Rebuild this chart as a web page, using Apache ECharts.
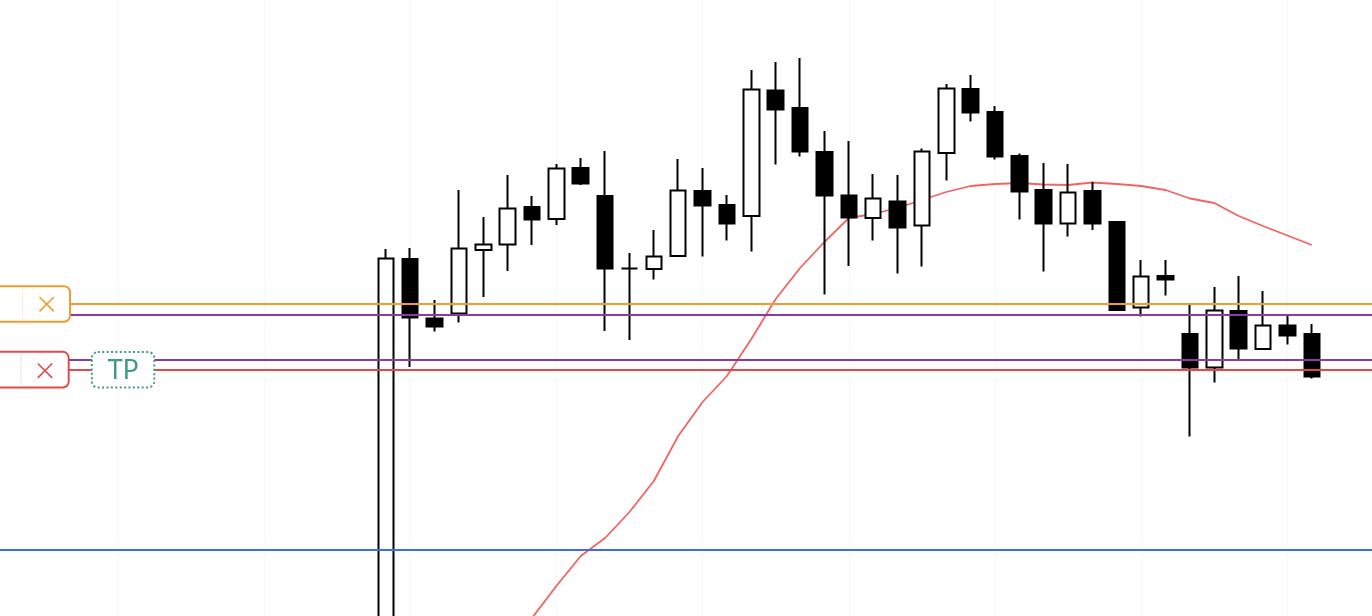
<!DOCTYPE html>
<html>
<head>
<meta charset="utf-8">
<script src="https://cdn.jsdelivr.net/npm/echarts@6/dist/echarts.min.js"></script>
<style>
html,body{margin:0;padding:0;background:#fff;}
#chart{width:1372px;height:616px;}
</style>
</head>
<body>
<div id="chart"></div>
<script>
// empty bars before / after the visible candles
const padBefore = 17;
const padAfter = 3;

// [open, close, low, high]
const candles = [
  [149.76, 153.575, 149.56, 153.67],
  [153.57, 152.985, 152.49, 153.68],
  [152.975, 152.895, 152.845, 153.16],
  [153.025, 153.675, 152.935, 154.26],
  [153.66, 153.715, 153.19, 153.99],
  [153.715, 154.075, 153.45, 154.41],
  [154.09, 153.965, 153.71, 154.20],
  [153.97, 154.475, 153.91, 154.52],
  [154.48, 154.325, 154.31, 154.58],
  [154.20, 153.475, 152.85, 154.65],
  [153.475, 153.475, 152.76, 153.63],
  [153.47, 153.595, 153.365, 153.86],
  [153.60, 154.255, 153.60, 154.57],
  [154.25, 154.105, 153.595, 154.48],
  [154.11, 153.925, 153.755, 154.21],
  [154.00, 155.265, 153.645, 155.46],
  [155.255, 155.065, 154.515, 155.54],
  [155.08, 154.645, 154.595, 155.58],
  [154.64, 154.205, 153.215, 154.85],
  [154.205, 153.985, 153.50, 154.75],
  [153.98, 154.175, 153.755, 154.42],
  [154.145, 153.885, 153.425, 154.41],
  [153.905, 154.645, 153.495, 154.675],
  [154.63, 155.275, 154.355, 155.32],
  [155.27, 155.035, 154.945, 155.41],
  [155.04, 154.595, 154.565, 155.10],
  [154.60, 154.245, 153.965, 154.625],
  [154.26, 153.925, 153.445, 154.53],
  [153.925, 154.235, 153.795, 154.52],
  [154.25, 153.925, 153.86, 154.34],
  [153.94, 153.06, 153.06, 153.95],
  [153.085, 153.395, 152.995, 153.56],
  [153.40, 153.365, 153.205, 153.56],
  [152.82, 152.485, 151.795, 153.11],
  [152.485, 153.055, 152.335, 153.29],
  [153.05, 152.675, 152.56, 153.40],
  [152.67, 152.905, 152.67, 153.25],
  [152.905, 152.805, 152.715, 153.01],
  [152.82, 152.395, 152.375, 152.92]
];

// moving average per candle ('-' = not shown)
const maValues = ['-','-','-','-','-','-',
  149.98, 150.30, 150.60, 150.78, 151.04, 151.35, 151.80, 152.14, 152.40, 152.77,
  153.17, 153.48, 153.74, 153.98, 154.02, 154.08, 154.16, 154.24, 154.30, 154.32,
  154.33, 154.315, 154.31, 154.335, 154.32, 154.30, 154.26, 154.175, 154.13, 154.00,
  153.90, 153.805, 153.71];

// horizontal price levels
const levelValues = [153.12, 153.01, 152.56, 152.463, 150.66];
const levelColors = ['#f09c30', '#8a3aa6', '#8a3aa6', '#e04a4a', '#3e6bf0'];

const yMin = 150.00;
const yMax = 156.16;

const total = padBefore + candles.length + padAfter;
const categories = [];
for (let i = 0; i < total; i++) categories.push(String(i - padBefore + 1));

const candleData = [].concat(new Array(padBefore).fill('-'), candles, new Array(padAfter).fill('-'));
const maData = [].concat(new Array(padBefore).fill('-'), maValues, new Array(padAfter).fill('-'));

const chart = echarts.init(document.getElementById('chart'), null, {renderer: 'canvas'});

chart.setOption({
  animation: false,
  backgroundColor: '#ffffff',
  grid: {left: -28.46, right: -12.9, top: 0, bottom: 0, outerBoundsMode: 'none', containLabel: false},
  xAxis: {
    type: 'category',
    data: categories,
    boundaryGap: false,
    axisLine: {show: false},
    axisTick: {show: false},
    axisLabel: {show: false},
    splitLine: {show: true, interval: 5, lineStyle: {color: '#f8f8f8', width: 1}}
  },
  yAxis: {
    type: 'value',
    min: yMin,
    max: yMax,
    axisLine: {show: false},
    axisTick: {show: false},
    axisLabel: {show: false},
    splitLine: {show: false}
  },
  series: [
    {
      type: 'line',
      data: maData,
      symbol: 'none',
      silent: true,
      z: 1,
      lineStyle: {color: 'rgba(239,83,80,0.9)', width: 1.8}
    },
    {
      type: 'candlestick',
      data: candleData,
      barWidth: 16,
      silent: true,
      z: 2,
      itemStyle: {
        color: '#ffffff',
        color0: '#000000',
        borderColor: '#000000',
        borderColor0: '#000000',
        borderColorDoji: '#000000',
        borderWidth: 2
      }
    },
    {
      type: 'line',
      data: [],
      z: 5,
      silent: true,
      markLine: {
        symbol: ['none', 'none'],
        silent: true,
        label: {show: false},
        emphasis: {disabled: true},
        data: levelValues.map((v, i) => ({
          yAxis: v,
          lineStyle: {color: levelColors[i], width: 2, type: 'solid'}
        }))
      }
    }
  ]
});

const yOf = v => chart.convertToPixel({yAxisIndex: 0}, v);
const yO = yOf(levelValues[0]);
const yR = yOf(levelValues[3]);
const teal = '#3f9c82';

function cross(cx, cy, half, color) {
  return [
    {type: 'line', z: 102, shape: {x1: cx - half, y1: cy - half, x2: cx + half, y2: cy + half}, style: {stroke: color, lineWidth: 1.6}},
    {type: 'line', z: 102, shape: {x1: cx + half, y1: cy - half, x2: cx - half, y2: cy + half}, style: {stroke: color, lineWidth: 1.6}}
  ];
}

chart.setOption({
  graphic: [
    {type: 'rect', z: 100, shape: {x: -20, y: yO - 17.75, width: 90, height: 35.5, r: 6},
      style: {fill: '#ffffff', stroke: levelColors[0], lineWidth: 2}},
    {type: 'line', z: 101, shape: {x1: 22.5, y1: yO - 16.5, x2: 22.5, y2: yO + 16.5},
      style: {stroke: '#fcefdd', lineWidth: 1.5}},
    ...cross(46.7, yO + 0.2, 7.2, levelColors[0]),
    {type: 'rect', z: 100, shape: {x: -20, y: yR - 17.85, width: 88.7, height: 35.7, r: 6},
      style: {fill: '#ffffff', stroke: levelColors[3], lineWidth: 2}},
    {type: 'line', z: 101, shape: {x1: 21, y1: yR - 16.6, x2: 21, y2: yR + 16.6},
      style: {stroke: '#fbe9e9', lineWidth: 1.5}},
    ...cross(45, yR + 1, 7.2, levelColors[3]),
    {type: 'rect', z: 100, shape: {x: 91.8, y: yR - 17.6, width: 62.5, height: 35.3, r: 6},
      style: {fill: '#ffffff', stroke: teal, lineWidth: 2, lineDash: [2, 2.4]}},
    {type: 'text', z: 103, x: 123, y: yR + 1,
      style: {text: 'TP', fill: teal, font: '26px Lato, "Open Sans", sans-serif',
        align: 'center', verticalAlign: 'middle', textAlign: 'center', textVerticalAlign: 'middle'}}
  ]
});
</script>
</body>
</html>
